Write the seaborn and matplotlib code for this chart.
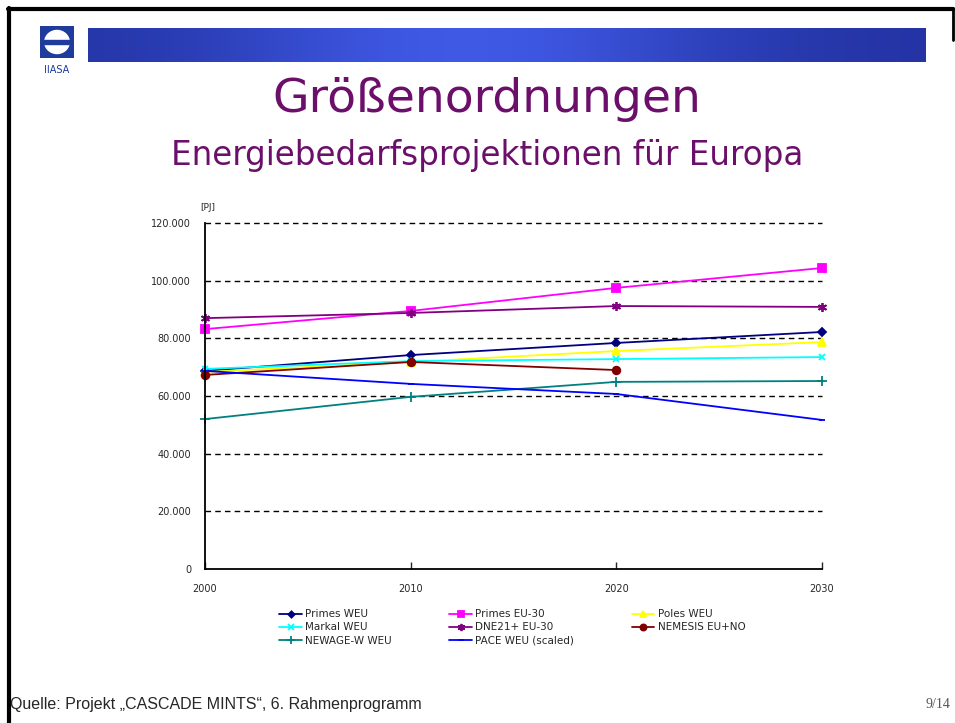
import numpy as np
import pandas as pd
import matplotlib
matplotlib.use("Agg")
import matplotlib.pyplot as plt
from matplotlib.patches import Rectangle, Circle
from matplotlib.ticker import FuncFormatter
import seaborn as sns

years = [2000, 2010, 2020, 2030]
primes_weu = [68700, 74200, 78400, 82200]
primes_eu30 = [83200, 89500, 97500, 104400]
poles_weu = [68300, 71800, 75600, 78700]
markal_weu = [69400, 72100, 72800, 73500]
dne21_eu30 = [87000, 88800, 91200, 90900]
nemesis_euno = [67300, 71800, 69000, np.nan]
newage_weu = [52000, 59700, 64900, 65200]
pace_weu = [68700, 64200, 60700, 51700]

series = {
    "Primes WEU": primes_weu,
    "Primes EU-30": primes_eu30,
    "Poles WEU": poles_weu,
    "Markal WEU": markal_weu,
    "DNE21+ EU-30": dne21_eu30,
    "NEMESIS EU+NO": nemesis_euno,
    "NEWAGE-W WEU": newage_weu,
    "PACE WEU (scaled)": pace_weu,
}
colors = {
    "Primes WEU": "#000080",
    "Primes EU-30": "#FF00FF",
    "Poles WEU": "#FFFF00",
    "Markal WEU": "#00FFFF",
    "DNE21+ EU-30": "#800080",
    "NEMESIS EU+NO": "#800000",
    "NEWAGE-W WEU": "#008080",
    "PACE WEU (scaled)": "#0000FF",
}
markers = {
    "Primes WEU": "D",
    "Primes EU-30": "s",
    "Poles WEU": "^",
    "Markal WEU": "x",
    "DNE21+ EU-30": (6, 2, 0),
    "NEMESIS EU+NO": "o",
    "NEWAGE-W WEU": "+",
    "PACE WEU (scaled)": "_",
}
sizes = {
    "Primes WEU": 4, "Primes EU-30": 5.5, "Poles WEU": 5.5, "Markal WEU": 5,
    "DNE21+ EU-30": 6.5, "NEMESIS EU+NO": 5.5, "NEWAGE-W WEU": 7, "PACE WEU (scaled)": 5,
}

rows = []
for name, vals in series.items():
    for y, v in zip(years, vals):
        rows.append({"year": y, "value": v, "series": name})
df = pd.DataFrame(rows).dropna()

sns.set_style("white")
plt.rcParams["font.family"] = ["DejaVu Sans"]

fig = plt.figure(figsize=(9.55, 7.23), dpi=100)
W, H = 955, 723


def fx(px):
    return px / W


def fy(py):
    return 1 - py / H


# slide frame
fig.add_artist(plt.Line2D([fx(9), fx(9)], [fy(8), 0], color="black", lw=3))
fig.add_artist(plt.Line2D([fx(8), fx(953)], [fy(9), fy(9)], color="black", lw=3))
fig.add_artist(plt.Line2D([fx(953), fx(953)], [fy(8), fy(40)], color="black", lw=2))

# banner
bax = fig.add_axes([fx(88), fy(62), fx(925 - 88), (62 - 28) / H])
grad = np.linspace(0, 1, 400)
prof = 0.35 + 0.65 * np.exp(-((grad - 0.45) / 0.3) ** 2)
c0 = np.array([0.08, 0.12, 0.50])
c1 = np.array([0.25, 0.35, 0.90])
img = c0[None, :] + (c1 - c0)[None, :] * prof[:, None]
bax.imshow(img[None, :, :].repeat(10, axis=0), aspect="auto")
bax.axis("off")

# logo
lax = fig.add_axes([fx(40), fy(58), fx(34), 32 / H])
lax.set_xlim(0, 1)
lax.set_ylim(0, 1)
lax.add_patch(Rectangle((0, 0), 1, 1, color="#1f3c9c"))
lax.add_patch(Circle((0.5, 0.5), 0.36, color="white"))
lax.add_patch(Rectangle((0.1, 0.44), 0.8, 0.12, color="#1f3c9c"))
lax.axis("off")
fig.text(fx(57), fy(70), "IIASA", ha="center", va="center", fontsize=7,
         color="#1f3c9c")

# titles
fig.text(fx(487), fy(100), "Größenordnungen", ha="center", va="center",
         fontsize=34, color="#6B0F6B")
fig.text(fx(487), fy(155), "Energiebedarfsprojektionen für Europa", ha="center",
         va="center", fontsize=23.5, color="#6B0F6B")

# chart
ax = fig.add_axes([fx(205), fy(569), fx(822 - 205), (569 - 223) / H])
for name in series:
    sub = df[df["series"] == name]
    sns.lineplot(data=sub, x="year", y="value", ax=ax, color=colors[name],
                 marker=markers[name], markersize=sizes[name],
                 markeredgecolor=colors[name], markeredgewidth=1.3,
                 linewidth=1.3, label=name, legend=False)

ax.set_xlim(2000, 2030)
ax.set_ylim(0, 120000)
ax.set_xticks(years)
ax.set_yticks(np.arange(0, 120001, 20000))
ax.yaxis.set_major_formatter(FuncFormatter(lambda v, p: f"{int(v):,}".replace(",", ".")))
for yv in np.arange(20000, 120001, 20000):
    ax.axhline(yv, color="black", lw=1, ls=(0, (4, 3)), zorder=0.5)
ax.set_xlabel("")
ax.set_ylabel("")
for s in ["top", "right"]:
    ax.spines[s].set_visible(False)
for s in ["left", "bottom"]:
    ax.spines[s].set_color("black")
    ax.spines[s].set_linewidth(1.3)
ax.tick_params(axis="x", direction="in", length=5, width=1, bottom=True,
               labelsize=7, pad=11)
ax.tick_params(axis="y", length=0, labelsize=7, pad=10)
for line in ax.lines:
    line.set_clip_on(False)

fig.text(fx(200), fy(208), "[PJ]", fontsize=6.5, ha="left", va="center")

# legend (column-major order to match row layout)
handles = {h.get_label(): h for h in ax.get_lines() if h.get_label() in series}
order = ["Primes WEU", "Markal WEU", "NEWAGE-W WEU",
         "Primes EU-30", "DNE21+ EU-30", "PACE WEU (scaled)",
         "Poles WEU", "NEMESIS EU+NO"]
fig.legend([handles[k] for k in order], order, ncol=3, frameon=False,
           loc="upper left", bbox_to_anchor=(fx(270), fy(600)), fontsize=7.5,
           handlelength=2.2, handletextpad=0.3, columnspacing=5.5,
           labelspacing=0.3, markerscale=0.8)

# footer
fig.text(fx(10), fy(704), "Quelle: Projekt „CASCADE MINTS“, 6. Rahmenprogramm",
         fontsize=11.5, ha="left", va="center",
         family=["Liberation Sans Narrow", "Liberation Sans", "DejaVu Sans"])
fig.text(fx(950), fy(704), "9/14", fontsize=10, ha="right", va="center",
         color="#555555", family=["Liberation Serif", "DejaVu Serif"])

fig.savefig("out.png", dpi=100, facecolor="white")
